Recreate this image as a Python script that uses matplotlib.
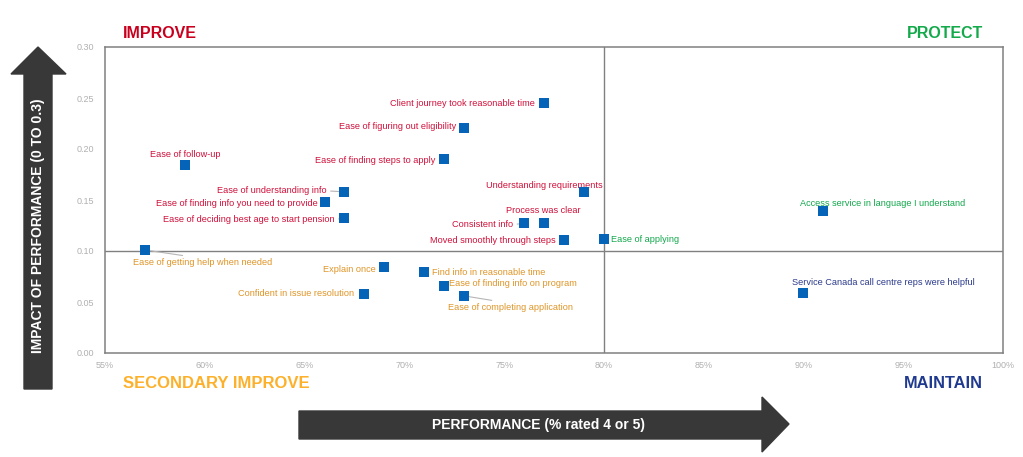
import matplotlib.pyplot as plt
from matplotlib.patches import Polygon
import numpy as np

plt.rcParams['font.family'] = ['Liberation Sans', 'DejaVu Sans']

# performance (%), impact (0 to 0.3)
labels = [
    "Client journey took reasonable time", "Ease of figuring out eligibility",
    "Ease of finding steps to apply", "Ease of follow-up",
    "Ease of understanding info", "Ease of finding info you need to provide",
    "Ease of deciding best age to start pension", "Understanding requirements",
    "Process was clear", "Consistent info", "Moved smoothly through steps",
    "Ease of applying", "Access service in language I understand",
    "Service Canada call centre reps were helpful", "Ease of getting help when needed",
    "Explain once", "Find info in reasonable time", "Ease of finding info on program",
    "Ease of completing application", "Confident in issue resolution",
]
performance = [77, 73, 72, 59, 67, 66, 67, 79, 77, 76, 78, 80, 91, 90, 57, 69, 71, 72, 73, 68]
impact = [0.245, 0.221, 0.190, 0.184, 0.158, 0.148, 0.132, 0.158, 0.127, 0.127, 0.111,
          0.112, 0.139, 0.059, 0.101, 0.084, 0.079, 0.066, 0.056, 0.058]

RED = '#d0103a'
ORANGE = '#df9527'
GREEN = '#12a84c'
NAVY = '#2b3a8c'
label_colors = [RED] * 11 + [GREEN, GREEN, NAVY] + [ORANGE] * 6

# label offsets in pixels, alignment, leader line start on the text (relpos) or None
placement = [
    (-9, 0, 'right', None), (-8, 1, 'right', None), (-9, -1, 'right', None),
    (0, 11, 'center', None), (-18, 1, 'right', (1, 0.5)), (-7, -1, 'right', None),
    (-10, -1, 'right', (1, 0.5)), (-40, 6, 'center', None), (-1, 13, 'center', (0.5, 0)),
    (-11, -1, 'right', (1, 0.5)), (-8, -1, 'right', None), (7, -1, 'left', None),
    (59, 8, 'center', None), (80, 10, 'center', None), (58, -13, 'center', (0.5, 1)),
    (-9, -2, 'right', (1, 0.5)), (8, 0, 'left', None), (5, 2, 'left', None),
    (46, -12, 'center', (0.5, 1)), (-10, 0, 'right', None),
]

W, H = 1023, 457
fig = plt.figure(figsize=(W / 100, H / 100), dpi=100)
ax = fig.add_axes([105 / W, 1 - 353 / H, 898 / W, 306 / H])

ax.axvline(80, color='#808080', lw=1, zorder=1)
ax.axhline(0.1, color='#808080', lw=1, zorder=1)
ax.scatter(performance, impact, marker='s', s=62, color='#0563b8', zorder=3, linewidths=0)

for i, lab in enumerate(labels):
    dx, dy, ha, rel = placement[i]
    arrow = None
    if rel is not None:
        arrow = dict(arrowstyle='-', color='#b5b5b5', lw=0.8, shrinkA=1, shrinkB=0, relpos=rel)
    ax.annotate(lab, (performance[i], impact[i]), xytext=(dx, dy), textcoords='offset pixels',
                ha=ha, va='center', fontsize=6.6, color=label_colors[i], arrowprops=arrow,
                zorder=2)

ax.set_xlim(55, 100)
ax.set_ylim(0, 0.3)
ax.set_xticks(np.arange(55, 101, 5))
ax.set_xticklabels([f"{v}%" for v in range(55, 101, 5)])
ax.set_yticks(np.arange(0, 0.31, 0.05))
ax.set_yticklabels([f"{v:.2f}" for v in np.arange(0, 0.31, 0.05)])
ax.tick_params(length=0, labelsize=6.5, labelcolor='#b0b0b0')
ax.tick_params(axis='x', pad=6)
ax.tick_params(axis='y', pad=8)
for s in ax.spines.values():
    s.set_color('#808080')
    s.set_linewidth(1.1)


def px(x, y):
    return (x / W, 1 - y / H)


# quadrant headers
fig.text(*px(123, 34), "IMPROVE", color='#c8001e', fontsize=11.5, fontweight='bold', va='center')
fig.text(*px(983, 34), "PROTECT", color='#14a94b', fontsize=11.5, fontweight='bold', va='center', ha='right')
fig.text(*px(123, 383), "SECONDARY IMPROVE", color='#fdb02a', fontsize=12, fontweight='bold',
         va='center', family=['Liberation Sans Narrow', 'Liberation Sans'])
fig.text(*px(983, 383), "MAINTAIN", color='#1f3a8f', fontsize=11.8, fontweight='bold',
         va='center', ha='right', family=['Liberation Sans Narrow', 'Liberation Sans'])

# arrows
dark = '#383838'
up = [px(24, 389), px(24, 74), px(11, 74), px(38, 47), px(66, 74), px(52, 74), px(52, 389)]
fig.patches.append(Polygon(up, closed=True, transform=fig.transFigure, color=dark, figure=fig))
right = [px(299, 411), px(762, 411), px(762, 397), px(789, 424), px(762, 452), px(762, 439), px(299, 439)]
fig.patches.append(Polygon(right, closed=True, transform=fig.transFigure, color=dark, figure=fig))

fig.text(*px(38, 226), "IMPACT OF PERFORMANCE (0 TO 0.3)", rotation=90, color='white',
         fontsize=10, fontweight='bold', ha='center', va='center')
fig.text(*px(539, 425), "PERFORMANCE (% rated 4 or 5)", color='white', fontsize=10,
         fontweight='bold', ha='center', va='center', family=['Liberation Sans Narrow', 'Liberation Sans'])

fig.savefig('out.png', dpi=100, facecolor='white')
